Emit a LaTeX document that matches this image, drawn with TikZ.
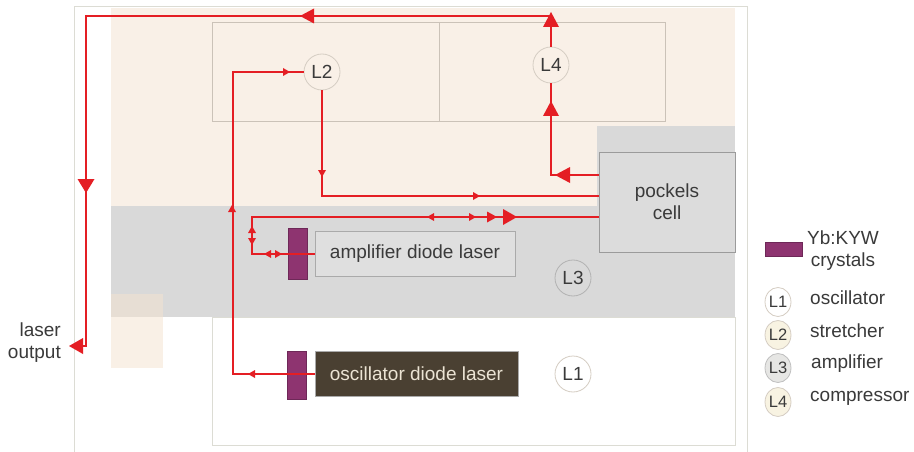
\documentclass[tikz,border=0pt]{standalone}
\usepackage{fontspec}
\setmainfont{Liberation Sans}
\usetikzlibrary{arrows.meta,shapes.geometric}
\definecolor{peach}{RGB}{249,240,231}
\definecolor{band}{RGB}{217,217,217}
\definecolor{framec}{RGB}{220,220,212}
\definecolor{boxline}{RGB}{203,194,184}
\definecolor{pcfill}{RGB}{220,220,220}
\definecolor{pcline}{RGB}{155,155,155}
\definecolor{ampfill}{RGB}{223,223,223}
\definecolor{ampline}{RGB}{170,170,170}
\definecolor{crys}{RGB}{142,52,112}
\definecolor{crysline}{RGB}{110,40,88}
\definecolor{oscfill}{RGB}{74,64,50}
\definecolor{osctext}{RGB}{236,228,212}
\definecolor{beamc}{RGB}{228,30,36}
\definecolor{txt}{RGB}{58,58,58}
\definecolor{ringline}{RGB}{213,205,195}
\definecolor{cream}{RGB}{248,243,226}
\definecolor{lgrey}{RGB}{230,230,228}
\definecolor{tan}{RGB}{231,222,212}
\definecolor{lpeach}{RGB}{249,240,230}
\newcommand\atip[5]{\fill[beamc,shift={(#1,#2)},rotate=#3] (0,0) -- (-#4,#5) -- (-#4,-#5) -- cycle;}
\tikzset{
  beam/.style={draw=beamc, line width=1.4pt},
  ring/.style={circle, draw=ringline, line width=0.8pt, minimum size=36pt, inner sep=0pt, text=txt},
  lring/.style={ellipse, draw=ringline, line width=0.8pt, minimum width=25pt, minimum height=29pt, inner sep=0pt, text=txt, font=\fontsize{16.5}{19}\selectfont},
  crystal/.style={draw=crysline, fill=crys, line width=0.6pt, minimum width=19pt, minimum height=50pt, inner sep=0pt},
  legtext/.style={anchor=west, text=txt, inner sep=0pt},
}
\begin{document}
\begin{tikzpicture}[x=1pt,y=-1pt, font=\fontsize{19}{22}\selectfont]
\useasboundingbox (0,0) rectangle (914,452);
\fill[white] (0,0) rectangle (914,452);
% frame
\draw[framec, line width=1pt] (74,452) -- (74,7) -- (747,7) -- (747,452);
% backgrounds
\fill[peach] (111,8) rectangle (735,206);
\fill[band] (111,206) rectangle (735,317);
\fill[band] (597,126) rectangle (735,206);
\draw[framec, fill=white, line width=0.8pt] (212,317) rectangle (735,445);
\fill[tan] (111,294) rectangle (163,317);
\fill[lpeach] (111,317) rectangle (163,368);
% stretcher / compressor boxes
\draw[boxline, line width=0.8pt] (212,22) rectangle (665,121);
\draw[boxline, line width=0.8pt] (439,22) -- (439,121);
% components
\node[draw=pcline, fill=pcfill, line width=0.8pt, minimum width=136pt, minimum height=100pt, align=center, text=txt] (pc) at (667,202) {pockels\\cell};
\node[draw=ampline, fill=ampfill, line width=0.8pt, minimum width=200pt, minimum height=45pt, inner sep=0pt, text=txt] (amp) at (415,254) {amplifier diode laser};
\node[crystal, minimum height=51pt] (ampx) at (297.5,253.5) {};
\node[draw=ampline, fill=oscfill, line width=0.6pt, minimum width=203pt, minimum height=45pt, inner sep=0pt, text=osctext] (osc) at (416.5,374) {oscillator diode laser};
\node[crystal, minimum height=48pt] (oscx) at (297,375) {};
% circles
\node[ring, fill=peach] (L2) at (322,72) {L2};
\node[ring, fill=peach] (L4) at (551,65) {L4};
\node[ring, fill=band, draw=gray!60] (L3) at (573,278) {L3};
\node[ring, fill=white] (L1) at (573,374) {L1};
% beam coordinates
\coordinate (o1) at (233,374);
\coordinate (o2) at (233,72);
\coordinate (s1) at (322,196);
\coordinate (c1) at (551,175);
\coordinate (t1) at (551,16);
\coordinate (t2) at (86,16);
\coordinate (t3) at (86,346);
\coordinate (outend) at (74,346);
\coordinate (a1) at (252,217);
\coordinate (a2) at (252,254);
% beams
\draw[beam] (osc.west) -- (o1) -- (o2) -- (L2.west);
\draw[beam] (L2.south) -- (s1) -- (s1 -| pc.west);
\draw[beam] (c1 -| pc.west) -- (c1) -- (L4.south);
\draw[beam] (L4.north) -- (t1) -- (t2) -- (t3) -- (outend);
\draw[beam] (a1 -| pc.west) -- (a1) -- (a2) -- (amp.west |- a2);
% arrow heads
\atip{300}{16}{180}{14}{7.5}
\atip{551}{12}{90}{15}{8}
\atip{551}{101}{90}{15}{8}
\atip{555}{175}{180}{15}{8}
\atip{86}{193}{270}{14}{8.5}
\atip{69}{346}{180}{14}{8}
\atip{517}{217}{0}{14}{8}
\atip{497}{217}{0}{10}{5.5}
\atip{476}{217}{0}{7}{4}
\atip{427}{217}{180}{7}{4}
\atip{252}{226}{90}{7}{4}
\atip{252}{245}{270}{7}{4}
\atip{264}{254}{180}{7}{4}
\atip{282}{254}{0}{7}{4}
\atip{290}{72}{0}{7}{4}
\atip{322}{177}{270}{7}{4}
\atip{480}{196}{0}{7}{4}
\atip{248}{374}{180}{7}{4}
\atip{232}{205}{90}{7}{4}
% laser output
\node[anchor=east, align=right, text=txt, inner sep=0pt] (lo) at (61,343) {laser\\output};
% legend
\node[draw=crysline, fill=crys, line width=0.6pt, minimum width=37pt, minimum height=14pt, inner sep=0pt] (lx) at (783.5,249) {};
\node[align=center, text=txt, inner sep=0pt] (lxt) at (843,251) {Yb:KYW\\crystals};
\node[lring, fill=white] (g1) at (778,302) {L1};
\node[lring, fill=cream] (g2) at (778,335) {L2};
\node[lring, fill=lgrey, draw=gray!50] (g3) at (778,368) {L3};
\node[lring, fill=cream] (g4) at (778,402) {L4};
\node[legtext] at (810,298) {oscillator};
\node[legtext] at (810,331) {stretcher};
\node[legtext] at (811,364) {amplifier};
\node[legtext] at (810,398) {compressor};
\end{tikzpicture}
\end{document}
